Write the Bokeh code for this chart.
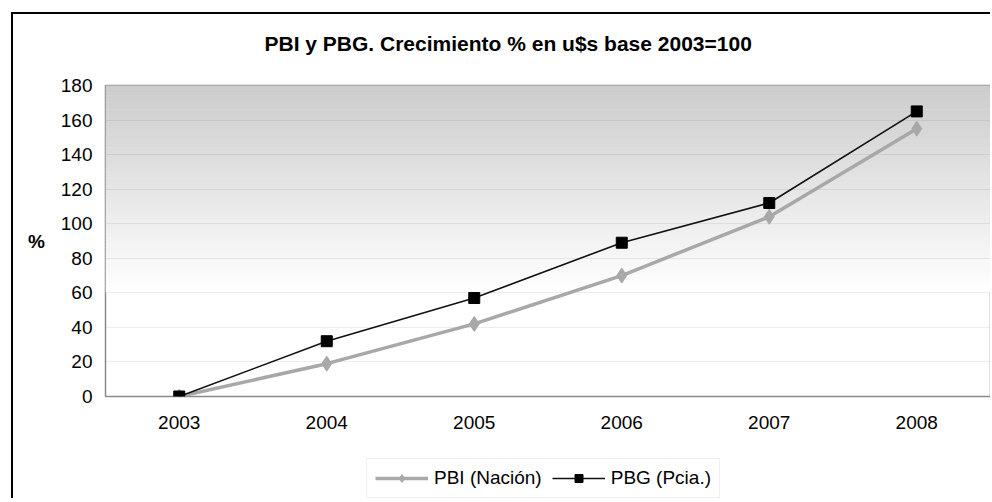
from bokeh.plotting import figure
from bokeh.layouts import column
from bokeh.models import (FactorRange, Range1d, FixedTicker, Legend, LegendItem,
                          BoxAnnotation, ColumnDataSource, Title)
from bokeh.embed import file_html
from bokeh.resources import INLINE

# ---- data ----
years = ["2003", "2004", "2005", "2006", "2007", "2008"]
pbi_nacion = [0, 19, 42, 70, 104, 155]
pbg_pcia = [0, 32, 57, 89, 112, 165]
y_ticks = [0, 20, 40, 60, 80, 100, 120, 140, 160, 180]
title_text = "PBI y PBG. Crecimiento % en u$s base 2003=100"
y_label = "%"
series_labels = ["PBI (Nación)", "PBG (Pcia.)"]

FONT = "Liberation Sans"
FS = "19px"

PBI_STYLE = dict(line_color="#a8a8a8", line_width=3.5)
PBI_MARK = dict(marker="diamond", size=15, fill_color="#a8a8a8", line_color="#a8a8a8")
PBG_STYLE = dict(line_color="#111111", line_width=1.6)
PBG_MARK = dict(marker="square", size=11, fill_color="#000000", line_color="#000000")

src = ColumnDataSource(dict(year=years, pbi=pbi_nacion, pbg=pbg_pcia))

p = figure(width=977, height=430, frame_width=883, frame_height=309,
           x_range=FactorRange(factors=years, range_padding=0),
           y_range=Range1d(0, 180),
           output_backend="svg", toolbar_location=None,
           min_border_left=92, min_border_right=2,
           min_border_top=71, min_border_bottom=50)
p.margin = (12, 0, 0, 11)
p.styles = {"border-top": "2px solid #000000", "border-left": "2px solid #000000"}

p.background_fill_color = "white"
p.border_fill_color = "white"
p.outline_line_color = "#8a8a8a"
p.outline_line_width = 1.5

# spacer between frame and title, then the title itself (further out)
p.add_layout(Title(text="\u00a0", text_font_size="2px", standoff=12), "above")
p.add_layout(Title(text=title_text, align="left", offset=159, vertical_align="bottom",
                   text_font=FONT, text_font_size="21px", text_font_style="bold",
                   text_color="#000000", standoff=30), "above")

# gradient background (white -> gray toward top)
g_start, g_end, n_bands = 60, 180, 60
step = (g_end - g_start) / n_bands
for i in range(n_bands):
    lo = g_start + i * step
    t = (i + 0.5) / n_bands
    shade = int(round(255 - t * (255 - 204)))
    col = "#%02x%02x%02x" % (shade, shade, shade)
    p.add_layout(BoxAnnotation(bottom=lo, top=lo + step + 0.3, fill_color=col,
                               fill_alpha=1.0, line_color=None, level="image"))

# grid
p.xgrid.grid_line_color = None
p.ygrid.ticker = FixedTicker(ticks=y_ticks)
p.ygrid.grid_line_color = "#000000"
p.ygrid.grid_line_alpha = 0.07
p.ygrid.grid_line_width = 1

# axes
p.yaxis.ticker = FixedTicker(ticks=y_ticks)
for ax in (p.xaxis[0], p.yaxis[0]):
    ax.axis_line_color = None
    ax.major_tick_line_color = None
    ax.minor_tick_line_color = None
    ax.major_tick_out = 0
    ax.major_tick_in = 0
    ax.major_label_text_font = FONT
    ax.major_label_text_font_size = FS
    ax.major_label_text_color = "#000000"
p.yaxis.major_label_standoff = 13
p.xaxis.major_label_standoff = 19

yax = p.yaxis[0]
yax.axis_label = y_label
yax.axis_label_text_font = FONT
yax.axis_label_text_font_size = FS
yax.axis_label_text_font_style = "bold"
yax.axis_label_text_color = "#000000"
yax.axis_label_standoff = 13
if "axis_label_orientation" in yax.properties():
    yax.axis_label_orientation = "horizontal"

# series
p.line("year", "pbi", source=src, **PBI_STYLE)
p.scatter("year", "pbi", source=src, **PBI_MARK)
p.line("year", "pbg", source=src, **PBG_STYLE)
p.scatter("year", "pbg", source=src, **PBG_MARK)

# ---- legend strip below the chart ----
p2 = figure(width=977, height=54, x_range=Range1d(0, 1), y_range=Range1d(0, 1),
            output_backend="svg", toolbar_location=None,
            x_axis_location=None, y_axis_location=None,
            min_border_left=0, min_border_right=0, min_border_top=0, min_border_bottom=0)
p2.margin = (0, 0, 0, 11)
p2.styles = {"border-left": "2px solid #000000"}
p2.grid.visible = False
p2.outline_line_color = None
p2.background_fill_color = "white"
p2.border_fill_color = "white"

# legend swatches: one point placed outside the visible range of the strip
leg_src = ColumnDataSource(dict(x=[-10, -11], y=[-10, -11]))
a1 = p2.line("x", "y", source=leg_src, **PBI_STYLE)
b1 = p2.scatter("x", "y", source=leg_src, **PBI_MARK)
a2 = p2.line("x", "y", source=leg_src, **PBG_STYLE)
b2 = p2.scatter("x", "y", source=leg_src, **PBG_MARK)

legend = Legend(items=[LegendItem(label=series_labels[0], renderers=[a1, b1]),
                       LegendItem(label=series_labels[1], renderers=[a2, b2])],
                orientation="horizontal", location=(261, 0))
legend.label_text_font = FONT
legend.label_text_font_size = FS
legend.label_text_color = "#000000"
legend.glyph_width = 53
legend.glyph_height = 20
legend.label_standoff = 6
legend.spacing = 10
legend.padding = 8
legend.margin = 0
legend.border_line_color = "#e0e0e0"
legend.border_line_width = 1
legend.background_fill_color = "white"
p2.add_layout(legend, "center")

layout = column(p, p2, spacing=0)
open("out.html", "w").write(file_html(layout, INLINE))
